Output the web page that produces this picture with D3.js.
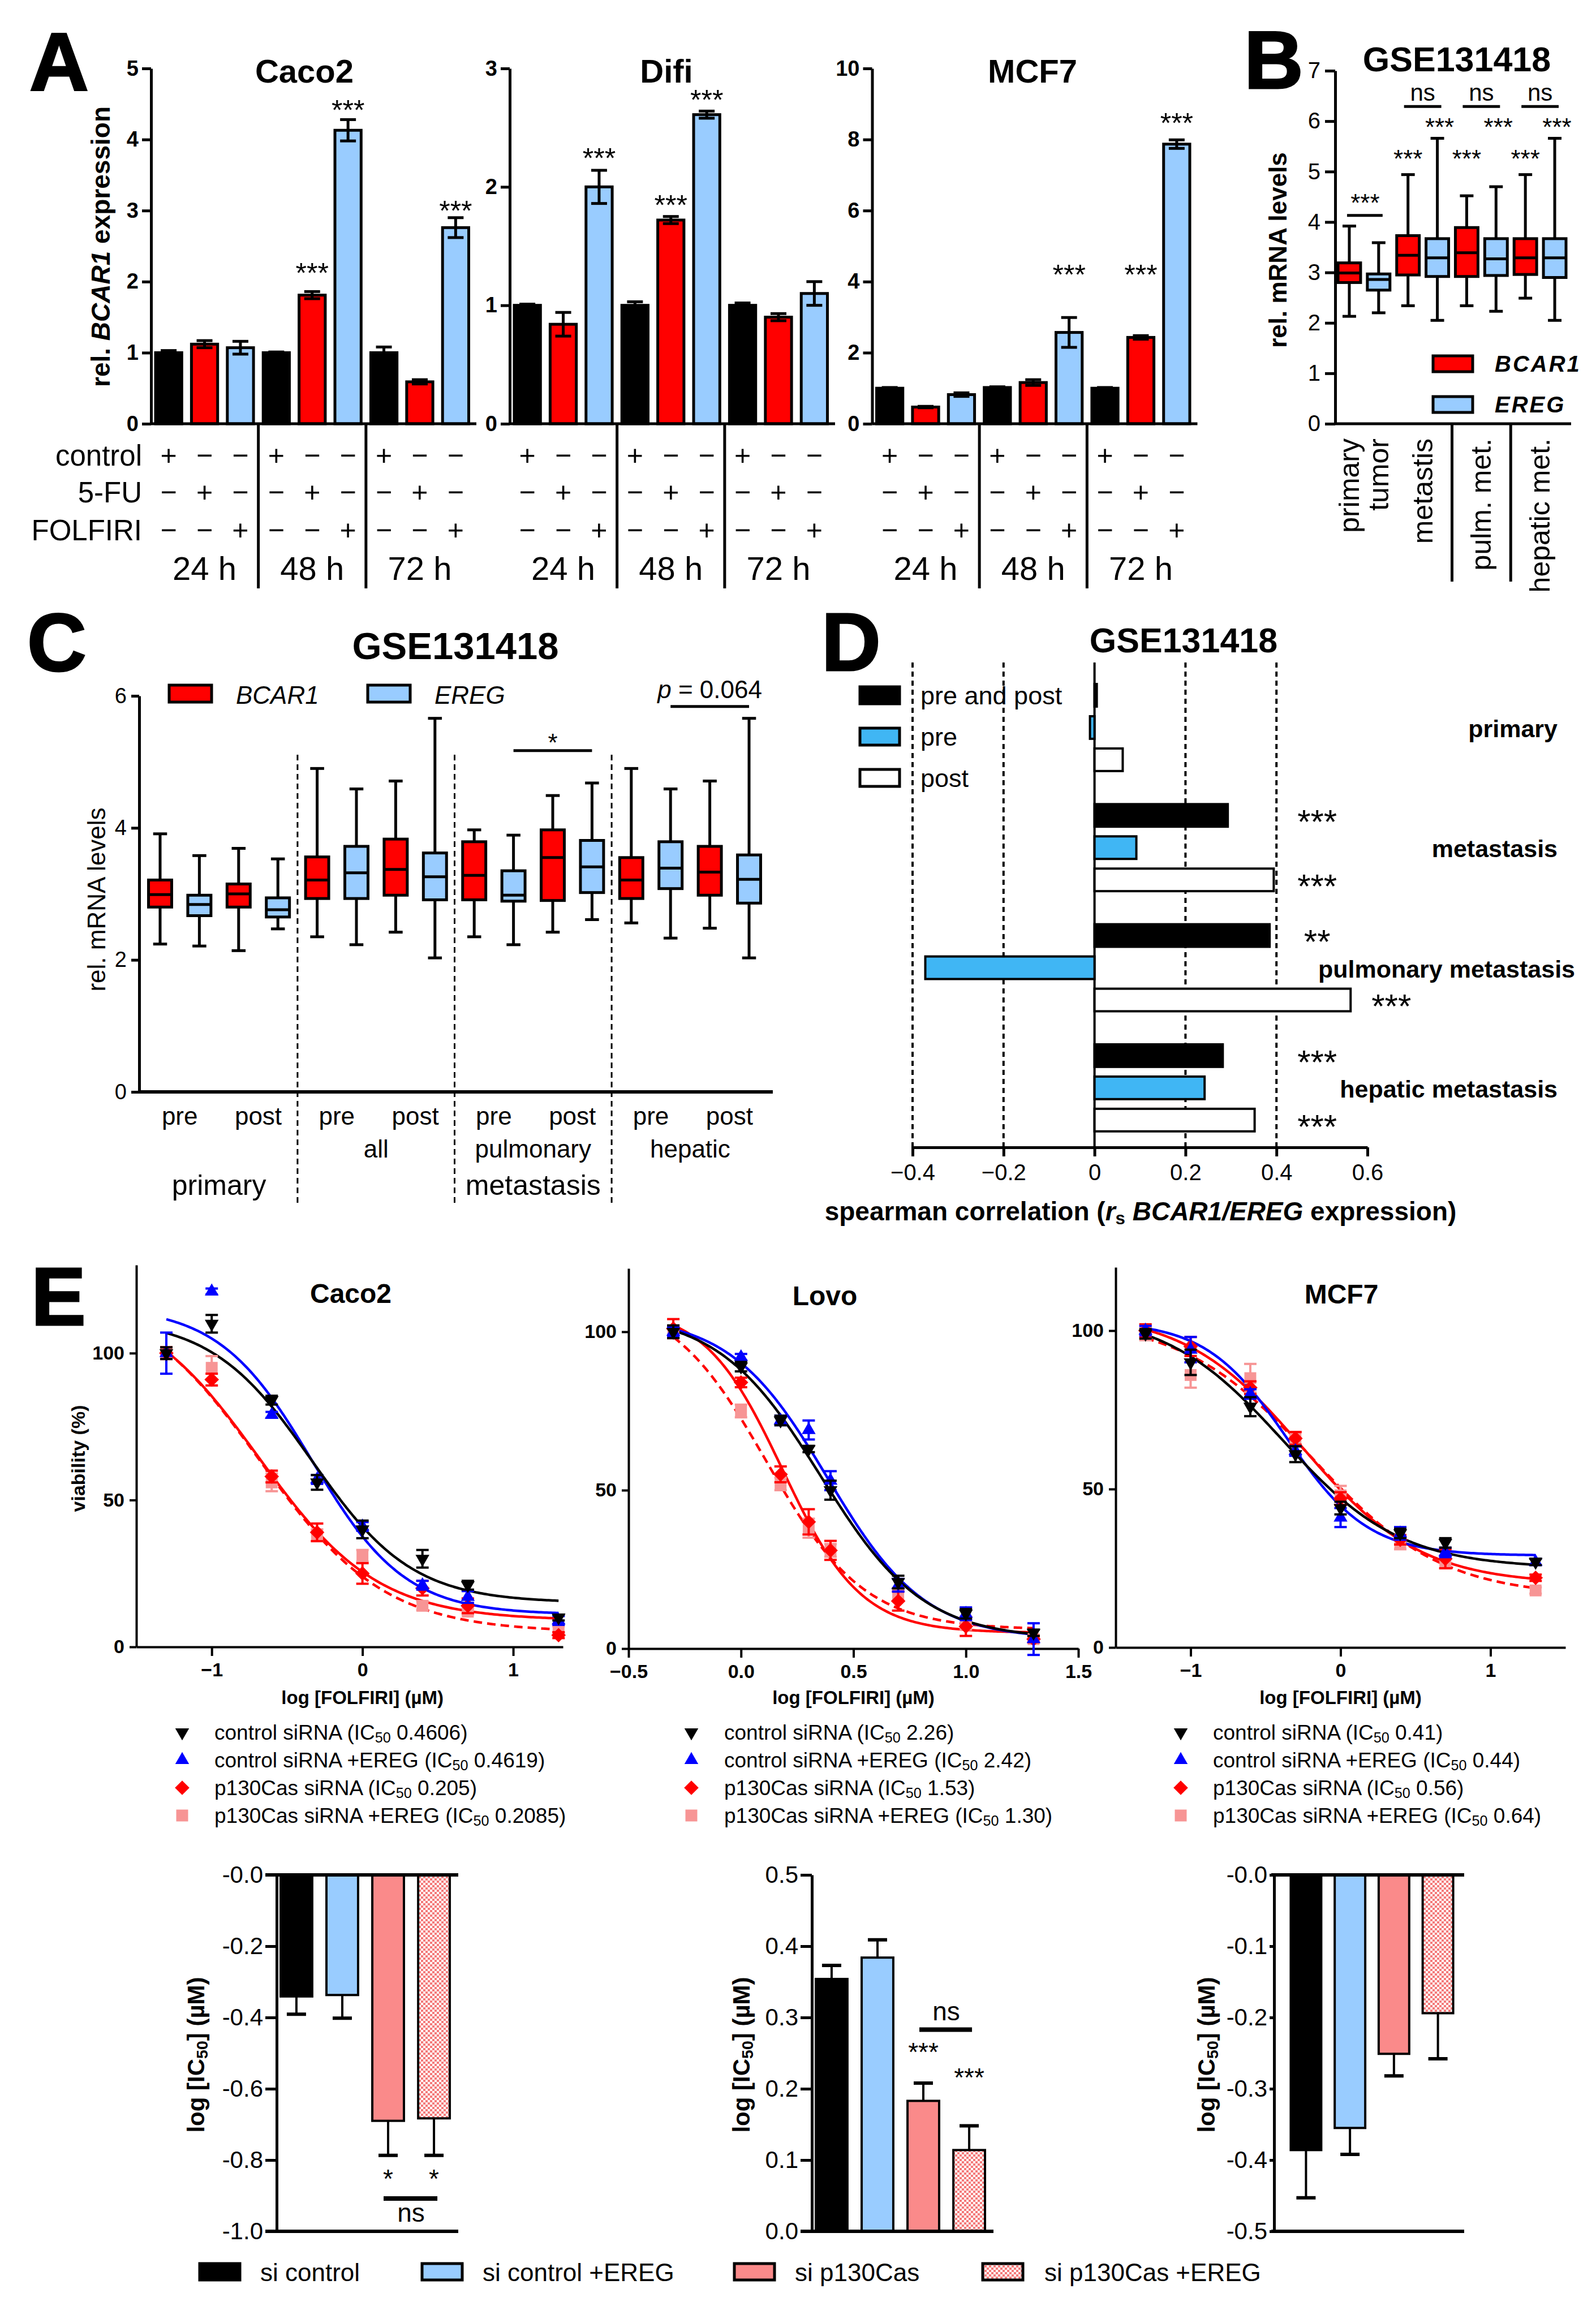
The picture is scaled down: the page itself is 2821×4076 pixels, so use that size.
<!DOCTYPE html>
<html>
<head>
<meta charset="utf-8">
<title>BCAR1 / EREG figure</title>
<script src="https://cdn.jsdelivr.net/npm/d3@7/dist/d3.min.js"></script>
<style>html,body{margin:0;padding:0;background:#fff;}svg{display:block;}</style>
</head>
<body>
<script>
// ======================= DATA =======================
// Panel A: rel. BCAR1 expression; bar order = 24h (control,5-FU,FOLFIRI), 48h (...), 72h (...)
const aCells = ["Caco2", "Difi", "MCF7"];
const aConditions = ["control", "5-FU", "FOLFIRI"];
const aTimes = ["24 h", "48 h", "72 h"];
const aCaco2 = [1.00, 1.12, 1.07, 1.00, 1.81, 4.13, 1.00, 0.59, 2.76];
const aCaco2Err = [0.03, 0.05, 0.09, 0.01, 0.05, 0.15, 0.08, 0.03, 0.14];
const aDifi = [1.00, 0.84, 2.00, 1.00, 1.72, 2.61, 1.00, 0.90, 1.10];
const aDifiErr = [0.01, 0.10, 0.14, 0.03, 0.03, 0.03, 0.02, 0.03, 0.10];
const aMCF7 = [1.00, 0.47, 0.82, 1.02, 1.16, 2.57, 1.00, 2.43, 7.87];
const aMCF7Err = [0.02, 0.02, 0.05, 0.02, 0.08, 0.42, 0.02, 0.05, 0.12];
const aCaco2Sig = [[4, 2.21, "***"], [5, 4.51, "***"], [8, 3.09, "***"]];
const aDifiSig = [[2, 2.30, "***"], [4, 1.90, "***"], [5, 2.79, "***"]];
const aMCF7Sig = [[5, 4.38, "***"], [7, 4.38, "***"], [8, 8.65, "***"]];
const aTicksCaco2 = [0, 1, 2, 3, 4, 5];
const aTicksDifi = [0, 1, 2, 3];
const aTicksMCF7 = [0, 2, 4, 6, 8, 10];

// Panel B: GSE131418 boxplots (BCAR1, EREG alternating)
const bGenes = ["BCAR1", "EREG"];
const bXLabels = [["primary", 0], ["tumor", 1], ["metastis", 2.5], ["pulm. met.", 4.5], ["hepatic met.", 6.5]];
const bMin = [2.13, 2.20, 2.34, 2.05, 2.34, 2.23, 2.49, 2.05];
const bQ1  = [2.80, 2.65, 2.95, 2.92, 2.92, 2.94, 2.96, 2.90];
const bMed = [2.99, 2.86, 3.34, 3.29, 3.39, 3.27, 3.29, 3.29];
const bQ3  = [3.19, 2.97, 3.73, 3.67, 3.89, 3.67, 3.67, 3.67];
const bMax = [3.92, 3.59, 4.94, 5.66, 4.52, 4.70, 4.94, 5.66];
const bTicks = [0, 1, 2, 3, 4, 5, 6, 7];

// Panel C: GSE131418 pre/post boxplots
const cSub = ["pre", "post", "pre", "post", "pre", "post", "pre", "post"];
const cGroups = ["all", "pulmonary", "hepatic"];
const cTop = ["primary", "metastasis"];
const cMin = [2.24, 2.21, 2.14, 2.47, 2.35, 2.23, 2.42, 2.03, 2.35, 2.23, 2.42, 2.61, 2.56, 2.33, 2.48, 2.03];
const cQ1  = [2.80, 2.67, 2.80, 2.65, 2.93, 2.93, 2.98, 2.91, 2.91, 2.89, 2.90, 3.02, 2.93, 3.08, 2.98, 2.86];
const cMed = [2.99, 2.84, 3.00, 2.76, 3.21, 3.32, 3.37, 3.26, 3.28, 2.98, 3.55, 3.41, 3.21, 3.39, 3.33, 3.22];
const cQ3  = [3.21, 2.98, 3.15, 2.94, 3.56, 3.72, 3.83, 3.62, 3.79, 3.35, 3.97, 3.81, 3.55, 3.79, 3.72, 3.59];
const cMax = [3.91, 3.58, 3.69, 3.53, 4.90, 4.59, 4.71, 5.66, 3.97, 3.89, 4.49, 4.68, 4.90, 4.59, 4.71, 5.66];
const cTicks = [0, 2, 4, 6];

// Panel D: spearman correlation rs BCAR1/EREG
const dCats = ["primary", "metastasis", "pulmonary metastasis", "hepatic metastasis"];
const dSeries = ["pre and post", "pre", "post"];
const dPrePost = [0.005, 0.293, 0.385, 0.282];
const dPre = [-0.010, 0.092, -0.372, 0.242];
const dPost = [0.062, 0.394, 0.563, 0.352];
const dSig = [["", "", ""], ["***", "", "***"], ["**", "", "***"], ["***", "", "***"]];
const dTicks = [-0.4, -0.2, 0, 0.2, 0.4, 0.6];
const dGrid = [-0.4, -0.2, 0.2, 0.4];

// Panel E: viability (%) vs log [FOLFIRI] (µM)
const eSeries = ["control siRNA", "control siRNA +EREG", "p130Cas siRNA", "p130Cas siRNA +EREG"];
const eLogConcCaco2 = [-1.301, -1.0, -0.602, -0.301, 0.0, 0.398, 0.699, 1.301];
const eLogConcLovo  = [-0.301, 0.0, 0.176, 0.301, 0.398, 0.699, 1.0, 1.301];
const eLogConcMCF7  = [-1.301, -1.0, -0.602, -0.301, 0.0, 0.398, 0.699, 1.301];
const eCaco2Ctrl     = [100, 110, 84, 56, 40, 30, 21, 10];
const eCaco2CtrlEreg = [100, 121, 79, 57, 41, 21, 17, 9];
const eCaco2Si       = [100, 91, 58, 39, 25, 20, 14, 4];
const eCaco2SiEreg   = [100, 95, 56, 38, 31, 14, 12, 6];
const eCaco2Err = [[2, 3, 1.5, 2.5, 3, 3, 1.5, 1], [7, 1, 1, 1.5, 1.5, 1.5, 2, 1.5], [2, 2, 2, 3, 3.5, 2.5, 2.5, 1], [2, 4, 3, 2, 2, 1.5, 1, 1]];
const eLovoCtrl     = [100, 89, 72, 63, 50, 21, 11, 5];
const eLovoCtrlEreg = [100, 92, 72, 69, 53, 20, 11, 3];
const eLovoSi       = [101, 84, 55, 40, 31, 15, 7, 3];
const eLovoSiEreg   = [100, 75, 52, 38, 31, 17, 8, 3];
const eLovoErr = [[2, 1.5, 1.5, 1, 3, 2, 1.5, 1], [1.5, 1, 1.5, 3, 3, 2, 2, 5], [3, 1.5, 2.5, 4, 3, 3, 3, 1], [2, 2, 2, 3, 2, 2, 2, 1]];
const eMCF7Ctrl     = [99, 90, 76, 61, 44, 36, 33, 27];
const eMCF7CtrlEreg = [100, 94, 80, 62, 41, 36, 30, 27];
const eMCF7Si       = [100, 95, 82, 66, 47, 34, 28, 22];
const eMCF7SiEreg   = [99, 86, 85, 66, 48, 33, 27, 18];
const eMCF7Err = [[1.5, 4, 3, 2.5, 2, 1.5, 1.5, 1], [1.5, 4, 1.5, 1.5, 3, 2, 1.5, 1], [2, 3, 2, 2, 2, 1.5, 3, 1], [2, 4, 4.5, 2, 3, 2, 2, 1]];
// IC50 values from the legends (µM), and fitted top / bottom / hill slope
const eIC50Caco2 = ["0.4606", "0.4619", "0.205", "0.2085"];
const eIC50Lovo  = ["2.26", "2.42", "1.53", "1.30"];
const eIC50MCF7  = ["0.41", "0.44", "0.56", "0.64"];
const eTopCaco2 = [112, 116, 120, 122], eBotCaco2 = [15, 11, 9, 5], eHillCaco2 = [1.3, 1.4, 1.1, 1.05];
const eTopLovo  = [106, 105, 108, 112], eBotLovo  = [3, 3, 5, 6],   eHillLovo  = [1.9, 2.0, 2.5, 2.0];
const eTopMCF7  = [106, 103, 106, 104], eBotMCF7  = [25, 29, 20, 16], eHillMCF7 = [1.1, 1.6, 1.1, 1.0];
const eXTicksCaco2 = [-1, 0, 1], eXTicksLovo = [-0.5, 0, 0.5, 1.0, 1.5], eXTicksMCF7 = [-1, 0, 1];
const eYTicks = [0, 50, 100];

// Panel E bars: log [IC50] (µM)
const ebGroups = ["si control", "si control +EREG", "si p130Cas", "si p130Cas +EREG"];
const ebCaco2 = [-0.341, -0.337, -0.690, -0.683], ebCaco2Err = [0.050, 0.065, 0.097, 0.104];
const ebLovo  = [0.354, 0.384, 0.183, 0.114],     ebLovoErr  = [0.019, 0.025, 0.025, 0.034];
const ebMCF7  = [-0.386, -0.355, -0.251, -0.194], ebMCF7Err  = [0.067, 0.037, 0.031, 0.064];
const ebTicksCaco2 = [0, -0.2, -0.4, -0.6, -0.8, -1.0];
const ebTicksLovo = [0, 0.1, 0.2, 0.3, 0.4, 0.5];
const ebTicksMCF7 = [0, -0.1, -0.2, -0.3, -0.4, -0.5];

// ======================= DRAWING =======================
const W = 2821, H = 4076;
const FONT = "'Liberation Sans', Arial, Helvetica, sans-serif";
const svg = d3.select("body").append("svg").attr("width", W).attr("height", H).attr("viewBox", `0 0 ${W} ${H}`);
svg.append("rect").attr("width", W).attr("height", H).attr("fill", "#fff");
const defs = svg.append("defs");
const pat = defs.append("pattern").attr("id", "chk").attr("patternUnits", "userSpaceOnUse").attr("width", 8).attr("height", 8);
pat.append("rect").attr("width", 8).attr("height", 8).attr("fill", "#fff");
pat.append("rect").attr("width", 4).attr("height", 4).attr("fill", "#f47a7a");
pat.append("rect").attr("x", 4).attr("y", 4).attr("width", 4).attr("height", 4).attr("fill", "#f47a7a");

function T(g, x, y, parts, o = {}) {
  const fs = o.fs || 40;
  let tr = `translate(${x},${y})`;
  if (o.rot) tr += ` rotate(${o.rot})`;
  if (o.sx) tr += ` scale(${o.sx},1)`;
  const t = g.append("text").attr("transform", tr)
    .attr("text-anchor", o.anchor || "middle")
    .attr("dominant-baseline", o.base || "central")
    .attr("font-family", FONT).attr("font-size", fs)
    .attr("font-weight", o.bold ? "bold" : "normal")
    .attr("fill", o.fill || "#000");
  if (o.ls != null) t.attr("letter-spacing", o.ls);
  if (o.stroke) t.attr("stroke", o.fill || "#000").attr("stroke-width", o.stroke);
  if (typeof parts === "string") parts = [{ t: parts }];
  let shift = 0;
  parts.forEach(p => {
    const s = t.append("tspan").text(p.t);
    if (p.i) s.attr("font-style", "italic");
    const want = p.sub ? fs * 0.25 : 0;
    if (want !== shift) { s.attr("dy", want - shift); shift = want; }
    if (p.sub) s.attr("font-size", fs * 0.68);
  });
  return t;
}
function L(g, x1, y1, x2, y2, w, col, dash) {
  const l = g.append("line").attr("x1", x1).attr("y1", y1).attr("x2", x2).attr("y2", y2)
    .attr("stroke", col || "#000").attr("stroke-width", w || 5);
  if (dash) l.attr("stroke-dasharray", dash);
  return l;
}
function star(g, x, yc, s, fs) { return T(g, x, yc + fs * 0.58, s, { fs: fs, base: "alphabetic" }); }
function styleAxis(sel, o = {}) {
  sel.attr("font-family", FONT).attr("font-size", o.fs || 38).attr("font-weight", o.bold ? "bold" : "normal");
  sel.select(".domain").attr("stroke", "#000").attr("stroke-width", o.w || 5);
  sel.selectAll(".tick line").attr("stroke", "#000").attr("stroke-width", o.w || 5);
  sel.selectAll(".tick text").attr("fill", "#000");
}
function box(g, cx, bw, ymin, yq1, ymed, yq3, ymax, fill) {
  const cap = bw * 0.6;
  L(g, cx, yq3, cx, ymax, 5); L(g, cx, yq1, cx, ymin, 5);
  L(g, cx - cap / 2, ymax, cx + cap / 2, ymax, 5); L(g, cx - cap / 2, ymin, cx + cap / 2, ymin, 5);
  g.append("rect").attr("x", cx - bw / 2).attr("y", yq3).attr("width", bw).attr("height", yq1 - yq3)
    .attr("fill", fill).attr("stroke", "#000").attr("stroke-width", 5);
  L(g, cx - bw / 2, ymed, cx + bw / 2, ymed, 5);
}
function letter(x, y, s) { T(svg, x, y, s, { anchor: "start", base: "alphabetic", fs: 145, bold: true, stroke: 3 }); }

const RED = "#ff0000", LBLUE = "#99ccff";
const intFmt = d3.format("d");

// ---------------- Panel A ----------------
letter(52, 159, "A");
const aCfg = [
  { name: aCells[0], vals: aCaco2, err: aCaco2Err, sig: aCaco2Sig, ticks: aTicksCaco2, ax: 267, titleX: 538, rows: true },
  { name: aCells[1], vals: aDifi, err: aDifiErr, sig: aDifiSig, ticks: aTicksDifi, ax: 901, titleX: 1178 },
  { name: aCells[2], vals: aMCF7, err: aMCF7Err, sig: aMCF7Sig, ticks: aTicksMCF7, ax: 1541.5, titleX: 1825 }
];
const aColors = ["#000", RED, LBLUE];
const aRowY = [805, 870, 937];
aCfg.forEach(c => {
  const g = svg.append("g");
  const y = d3.scaleLinear().domain([0, d3.max(c.ticks)]).range([749, 121]);
  const x = d3.scaleBand().domain(d3.range(c.vals.length)).range([c.ax, c.ax + 569.5]).paddingInner(0.27).paddingOuter(0.126);
  const bw = x.bandwidth();
  const cx = i => x(i) + bw / 2;
  g.selectAll("rect.bar").data(c.vals).join("rect").attr("class", "bar")
    .attr("x", (d, i) => x(i)).attr("y", d => y(d)).attr("width", bw).attr("height", d => y(0) - y(d))
    .attr("fill", (d, i) => aColors[i % 3]).attr("stroke", "#000").attr("stroke-width", 5);
  c.vals.forEach((v, i) => {
    const e = c.err[i];
    L(g, cx(i), y(v - e), cx(i), y(v + e), 5);
    L(g, cx(i) - 14, y(v + e), cx(i) + 14, y(v + e), 5);
    L(g, cx(i) - 14, y(v - e), cx(i) + 14, y(v - e), 5);
  });
  const ag = g.append("g").attr("transform", `translate(${c.ax},0)`)
    .call(d3.axisLeft(y).tickValues(c.ticks).tickSize(16).tickSizeOuter(0).tickPadding(6).tickFormat(intFmt));
  styleAxis(ag, { fs: 38, bold: true, w: 5 });
  L(g, c.ax, y(0), c.ax + 575, y(0), 5);
  c.sig.forEach(s => star(g, cx(s[0]), y(s[1]), s[2], 50));
  // +/- table
  aConditions.forEach((cond, r) => {
    c.vals.forEach((v, i) => T(g, cx(i), aRowY[r], (i % 3 === r) ? "+" : "\u2212", { fs: 50 }));
    if (c.rows) T(g, 251, aRowY[r], cond, { fs: 51, anchor: "end" });
  });
  [1, 2].forEach(k => {
    const xs = (x(3 * k - 1) + bw + x(3 * k)) / 2;
    L(g, xs, y(0), xs, 1040, 5);
  });
  aTimes.forEach((t, k) => T(g, (cx(3 * k) + cx(3 * k + 2)) / 2, 1004, t, { fs: 58 }));
  T(g, c.titleX, 146, c.name, { fs: 58, bold: true, base: "alphabetic" });
  if (c.rows) T(g, 178, 436, [{ t: "rel. " }, { t: "BCAR1", i: true }, { t: " expression" }], { rot: -90, bold: true, fs: 46 });
});

// ---------------- Panel B ----------------
letter(2199, 156, "B");
{
  const g = svg.append("g");
  const y = d3.scaleLinear().domain([0, 7]).range([749, 125]);
  const x = d3.scaleBand().domain(d3.range(bMed.length)).range([2360, 2773]).paddingInner(0.23).paddingOuter(0.096);
  const bw = x.bandwidth();
  const cx = i => x(i) + bw / 2;
  const ag = g.append("g").attr("transform", "translate(2360,0)")
    .call(d3.axisLeft(y).tickValues(bTicks).tickSize(18).tickSizeOuter(0).tickPadding(8).tickFormat(intFmt));
  styleAxis(ag, { fs: 40, w: 5 });
  L(g, 2360, y(0), 2777, y(0), 5);
  [3, 5].forEach(i => { const xs = (x(i) + bw + x(i + 1)) / 2; L(g, xs, y(0), xs, 1028, 5); });
  bMed.forEach((m, i) => box(g, cx(i), bw, y(bMin[i]), y(bQ1[i]), y(m), y(bQ3[i]), y(bMax[i]), i % 2 ? LBLUE : RED));
  // significance
  L(g, cx(0) - 4, y(4.13), cx(1) + 7, y(4.13), 5);
  star(g, (cx(0) + cx(1)) / 2 + 2, y(4.49), "***", 44);
  [2, 4, 6].forEach(i => {
    star(g, cx(i), y(5.37), "***", 44);
    star(g, cx(i + 1) + 4, y(6.0), "***", 44);
    L(g, cx(i) - 7, y(6.29), cx(i + 1) + 7, y(6.29), 5);
    T(g, (cx(i) + cx(i + 1)) / 2, y(6.57), "ns", { fs: 42 });
  });
  // legend
  [[629, RED], [701, LBLUE]].forEach((r, k) => {
    g.append("rect").attr("x", 2533).attr("y", r[0]).attr("width", 70).attr("height", 28).attr("fill", r[1]).attr("stroke", "#000").attr("stroke-width", 5);
    T(g, 2642, r[0] + 14, [{ t: bGenes[k], i: true }], { anchor: "start", bold: true, fs: 40, ls: 3 });
  });
  bXLabels.forEach(l => T(g, cx(0) + l[1] * x.step(), 775, l[0], { rot: -90, anchor: "end", fs: 50 }));
  T(g, 2258, 442, "rel. mRNA levels", { rot: -90, bold: true, fs: 44 });
  T(g, 2575, 126, "GSE131418", { bold: true, fs: 61, base: "alphabetic" });
}

// ---------------- Panel C ----------------
letter(48, 1186, "C");
{
  const g = svg.append("g");
  const y = d3.scaleLinear().domain([0, 6]).range([1930, 1230]);
  const x = d3.scaleBand().domain(d3.range(cMed.length)).range([246, 1361]).paddingInner(0.41).paddingOuter(0.238);
  const bw = x.bandwidth();
  const cx = i => x(i) + bw / 2;
  [3, 7, 11].forEach(i => { const xs = (x(i) + bw + x(i + 1)) / 2; L(g, xs, 1334, xs, 2130, 3, "#000", "10,7"); });
  const ag = g.append("g").attr("transform", "translate(246,0)")
    .call(d3.axisLeft(y).tickValues(cTicks).tickSize(14).tickSizeOuter(0).tickPadding(8).tickFormat(intFmt));
  styleAxis(ag, { fs: 38, w: 5 });
  L(g, 246, y(0), 1366, y(0), 6);
  cMed.forEach((m, i) => box(g, cx(i), bw, y(cMin[i]), y(cQ1[i]), y(m), y(cQ3[i]), y(cMax[i]), i % 2 ? LBLUE : RED));
  // legend
  [[299, 417, RED, "BCAR1"], [650, 768, LBLUE, "EREG"]].forEach(r => {
    g.append("rect").attr("x", r[0]).attr("y", 1211).attr("width", 75).attr("height", 30).attr("fill", r[2]).attr("stroke", "#000").attr("stroke-width", 5);
    T(g, r[1], 1228, [{ t: r[3], i: true }], { anchor: "start", fs: 44 });
  });
  // significance
  L(g, cx(9), y(5.17), cx(11), y(5.17), 5);
  star(g, (cx(9) + cx(11)) / 2, y(5.38), "*", 44);
  L(g, cx(13), y(5.84), cx(15), y(5.84), 5);
  T(g, cx(14), y(6.10), [{ t: "p", i: true }, { t: " = 0.064" }], { fs: 44 });
  // x labels
  cSub.forEach((s, k) => T(g, (cx(2 * k) + cx(2 * k + 1)) / 2, 1972, s, { fs: 44 }));
  cGroups.forEach((s, k) => T(g, (cx(4 + 4 * k) + cx(7 + 4 * k)) / 2, 2030, s, { fs: 44 }));
  T(g, (cx(0) + cx(3)) / 2, 2095, cTop[0], { fs: 50 });
  T(g, (cx(4) + cx(15)) / 2, 2095, cTop[1], { fs: 50 });
  T(g, 170, 1590, "rel. mRNA levels", { rot: -90, fs: 44 });
  T(g, 805, 1165, "GSE131418", { bold: true, fs: 67, base: "alphabetic" });
}

// ---------------- Panel D ----------------
letter(1452, 1185, "D");
{
  const g = svg.append("g");
  const x = d3.scaleLinear().domain([-0.4, 0.6]).range([1613, 2417]);
  const gy = d3.scaleBand().domain(dCats).range([1200.5, 2008.3]).paddingInner(0.195).paddingOuter(0);
  const sy = d3.scaleBand().domain(dSeries).range([0, gy.bandwidth()]).paddingInner(0.3).paddingOuter(0.15);
  const bh = sy.bandwidth();
  dGrid.forEach(v => L(g, x(v), 1171, x(v), 2028, 4, "#000", "9,7"));
  L(g, x(0), 1171, x(0), 2028, 4);
  const vals = [dPrePost, dPre, dPost];
  const fills = ["#000", "#40b6f4", "#fff"];
  dCats.forEach((cat, c) => {
    dSeries.forEach((s, k) => {
      const v = vals[k][c];
      g.append("rect").attr("x", Math.min(x(0), x(v))).attr("y", gy(cat) + sy(s))
        .attr("width", Math.abs(x(v) - x(0))).attr("height", bh)
        .attr("fill", fills[k]).attr("stroke", "#000").attr("stroke-width", 4);
      if (dSig[c][k]) star(g, Math.max(x(0.4), x(v)) + 72, gy(cat) + sy(s) + bh / 2 - 3, dSig[c][k], 60);
    });
    const right = cat === "pulmonary metastasis" ? 2784 : 2753;
    T(g, right, gy(cat) + sy(dSeries[1]) + bh / 2 + 2, cat, { anchor: "end", bold: true, fs: 43 });
  });
  const ax = g.append("g").attr("transform", "translate(0,2028)")
    .call(d3.axisBottom(x).tickValues(dTicks).tickSize(16).tickSizeOuter(0).tickPadding(14)
      .tickFormat(d => d === 0 ? "0" : d3.format(".1f")(d)));
  styleAxis(ax, { fs: 40, w: 5 });
  // legend
  dSeries.forEach((s, k) => {
    g.append("rect").attr("x", 1520).attr("y", 1214 + 73 * k).attr("width", 70).attr("height", 30)
      .attr("fill", fills[k]).attr("stroke", "#000").attr("stroke-width", 5);
    T(g, 1627, 1229 + 73 * k, s, { anchor: "start", fs: 45 });
  });
  T(g, 2016, 2141, [{ t: "spearman correlation (" }, { t: "r", i: true }, { t: "s", sub: true }, { t: " " }, { t: "BCAR1/EREG", i: true }, { t: " expression)" }], { bold: true, fs: 46 });
  T(g, 2092, 1153, "GSE131418", { bold: true, fs: 61, base: "alphabetic" });
}

// ---------------- Panel E curves ----------------
letter(55, 2342, "E");
const eLine = ["#000", "#0000ff", RED, RED];
const eMark = ["#000", "#0000ff", RED, "#f79595"];
const eSym = [d3.symbol(d3.symbolTriangle, 260)(), d3.symbol(d3.symbolTriangle, 260)(), d3.symbol(d3.symbolSquare, 330)(), d3.symbol(d3.symbolSquare, 440)()];
const eRot = [180, 0, 45, 0];
const eCfg = [
  { name: "Caco2", lc: eLogConcCaco2, vals: [eCaco2Ctrl, eCaco2CtrlEreg, eCaco2Si, eCaco2SiEreg], err: eCaco2Err, ic: eIC50Caco2,
    top: eTopCaco2, bot: eBotCaco2, hill: eHillCaco2, xd: [-1.5, 1.33], xr: [241, 995], yd: [0, 130], yr: [2911, 2236],
    xt: eXTicksCaco2, xf: d3.format("d"), title: [620, 2303], leg: [322, 379], ylab: true, xlab: 0 },
  { name: "Lovo", lc: eLogConcLovo, vals: [eLovoCtrl, eLovoCtrlEreg, eLovoSi, eLovoSiEreg], err: eLovoErr, ic: eIC50Lovo,
    top: eTopLovo, bot: eBotLovo, hill: eHillLovo, xd: [-0.5, 1.5], xr: [1111, 1906], yd: [0, 120], yr: [2914, 2242],
    xt: eXTicksLovo, xf: d3.format(".1f"), title: [1458, 2307], leg: [1222, 1280], xlab: 0.5 },
  { name: "MCF7", lc: eLogConcMCF7, vals: [eMCF7Ctrl, eMCF7CtrlEreg, eMCF7Si, eMCF7SiEreg], err: eMCF7Err, ic: eIC50MCF7,
    top: eTopMCF7, bot: eBotMCF7, hill: eHillMCF7, xd: [-1.5, 1.5], xr: [1972, 2767], yd: [0, 120], yr: [2912, 2240],
    xt: eXTicksMCF7, xf: d3.format("d"), title: [2371, 2304], leg: [2087, 2144], xlab: 0 }
];
eCfg.forEach(c => {
  const g = svg.append("g");
  const x = d3.scaleLinear().domain(c.xd).range(c.xr);
  const y = d3.scaleLinear().domain(c.yd).range(c.yr);
  const ay = g.append("g").attr("transform", `translate(${c.xr[0]},0)`)
    .call(d3.axisLeft(y).tickValues(eYTicks).tickSize(12).tickSizeOuter(0).tickPadding(9).tickFormat(intFmt));
  styleAxis(ay, { fs: 34, bold: true, w: 4 });
  const ax = g.append("g").attr("transform", `translate(0,${c.yr[0]})`)
    .call(d3.axisBottom(x).tickValues(c.xt).tickSize(16).tickSizeOuter(0).tickPadding(12).tickFormat(c.xf));
  styleAxis(ax, { fs: 34, bold: true, w: 4 });
  const order = [3, 2, 1, 0];
  const lo = c.lc[0], hi = c.lc[c.lc.length - 1];
  order.forEach(s => {
    const lic = Math.log10(parseFloat(c.ic[s]));
    const pts = d3.range(0, 201).map(k => {
      const v = lo + (hi - lo) * k / 200;
      return [v, c.bot[s] + (c.top[s] - c.bot[s]) / (1 + Math.pow(10, (v - lic) * c.hill[s]))];
    });
    const p = g.append("path").attr("d", d3.line().x(d => x(d[0])).y(d => y(d[1]))(pts))
      .attr("fill", "none").attr("stroke", eLine[s]).attr("stroke-width", 4.5);
    if (s === 3) p.attr("stroke-dasharray", "15,9");
  });
  order.forEach(s => {
    c.vals[s].forEach((v, i) => {
      const px = x(c.lc[i]), e = c.err[s][i];
      L(g, px, y(v - e), px, y(v + e), 4, eMark[s]);
      L(g, px - 11, y(v - e), px + 11, y(v - e), 4, eMark[s]);
      L(g, px - 11, y(v + e), px + 11, y(v + e), 4, eMark[s]);
      g.append("path").attr("d", eSym[s]).attr("transform", `translate(${px},${y(v)}) rotate(${eRot[s]})`).attr("fill", eMark[s]);
    });
  });
  eSeries.forEach((n, s) => {
    const ly = 3062 + 49 * s;
    g.append("path").attr("d", eSym[s]).attr("transform", `translate(${c.leg[0]},${ly}) rotate(${eRot[s]})`).attr("fill", eMark[s]);
    T(g, c.leg[1], ly, [{ t: n + " (IC" }, { t: "50", sub: true }, { t: " " + c.ic[s] + ")" }], { anchor: "start", fs: 37 });
  });
  T(g, c.title[0], c.title[1], c.name, { bold: true, fs: 48, base: "alphabetic" });
  T(g, x(c.xlab), 3000, "log [FOLFIRI] (\u00b5M)", { bold: true, fs: 33 });
  if (c.ylab) T(g, 138, 2578, "viability (%)", { rot: -90, bold: true, fs: 34 });
});

// ---------------- Panel E bars ----------------
const ebFill = ["#000", LBLUE, "#fa8a8a", "url(#chk)"];
const negFmt = d => "-" + Math.abs(d).toFixed(1);
const ebCfg = [
  { vals: ebCaco2, err: ebCaco2Err, yd: [-1, 0], ticks: ebTicksCaco2, fmt: negFmt, ax: 489, xr: [489, 802], pi: 0.31, po: 0.086, lineX: [469, 810], lines: [0, -1], ts: 20, tp: 4, ylabX: 346 },
  { vals: ebLovo, err: ebLovoErr, yd: [0, 0.5], ticks: ebTicksLovo, fmt: d => d.toFixed(1), ax: 1435, xr: [1435, 1748], pi: 0.31, po: 0.086, lineX: [1415, 1756], lines: [0], ts: 20, tp: 4, ylabX: 1310 },
  { vals: ebMCF7, err: ebMCF7Err, yd: [-0.5, 0], ticks: ebTicksMCF7, fmt: negFmt, ax: 2252, xr: [2262, 2588], pi: 0.306, po: 0.25, lineX: [2247, 2588], lines: [0, -0.5], ts: 8, tp: 4, ylabX: 2132 }
];
const ebScales = [];
ebCfg.forEach(c => {
  const g = svg.append("g");
  const y = d3.scaleLinear().domain(c.yd).range([3944, 3314]);
  const x = d3.scaleBand().domain(d3.range(4)).range(c.xr).paddingInner(c.pi).paddingOuter(c.po);
  const bw = x.bandwidth();
  ebScales.push({ x, y, bw, g });
  c.vals.forEach((v, i) => {
    const cx = x(i) + bw / 2, e = c.err[i], tip = v < 0 ? v - e : v + e;
    L(g, cx, y(v), cx, y(tip), 4);
    L(g, cx - 17, y(tip), cx + 17, y(tip), 6);
    g.append("rect").attr("x", x(i)).attr("y", Math.min(y(0), y(v))).attr("width", bw).attr("height", Math.abs(y(v) - y(0)))
      .attr("fill", ebFill[i]).attr("stroke", "#000").attr("stroke-width", 4);
  });
  const ag = g.append("g").attr("transform", `translate(${c.ax},0)`)
    .call(d3.axisLeft(y).tickValues(c.ticks).tickSize(c.ts).tickSizeOuter(0).tickPadding(c.tp).tickFormat(c.fmt));
  styleAxis(ag, { fs: 42, w: 5 });
  c.lines.forEach(v => L(g, c.lineX[0], y(v), c.lineX[1], y(v), 6));
  T(g, c.ylabX, 3632, [{ t: "log [IC" }, { t: "50", sub: true }, { t: "] (\u00b5M)" }], { rot: -90, bold: true, fs: 42 });
});
{ // annotations
  const a = ebScales[0], cxA = i => a.x(i) + a.bw / 2;
  star(a.g, cxA(2), a.y(-0.835), "*", 46); star(a.g, cxA(3), a.y(-0.835), "*", 46);
  L(a.g, cxA(2) - 8, a.y(-0.908), cxA(3) + 6, a.y(-0.908), 8);
  T(a.g, (cxA(2) + cxA(3)) / 2, a.y(-0.948), "ns", { fs: 46 });
  const b = ebScales[1], cxB = i => b.x(i) + b.bw / 2;
  star(b.g, cxB(2), b.y(0.26), "***", 46); star(b.g, cxB(3), b.y(0.224), "***", 46);
  L(b.g, cxB(2) - 7, b.y(0.283), cxB(3) + 5, b.y(0.283), 8);
  T(b.g, (cxB(2) + cxB(3)) / 2, b.y(0.309), "ns", { fs: 46 });
}
// bottom legend
const ebLegX = [[353, 460], [746, 853], [1298, 1405], [1737, 1846]];
ebGroups.forEach((n, i) => {
  svg.append("rect").attr("x", ebLegX[i][0]).attr("y", 4001).attr("width", 71).attr("height", 29)
    .attr("fill", ebFill[i]).attr("stroke", "#000").attr("stroke-width", 5);
  T(svg, ebLegX[i][1], 4016, n, { anchor: "start", fs: 44 });
});
</script>
</body>
</html>
